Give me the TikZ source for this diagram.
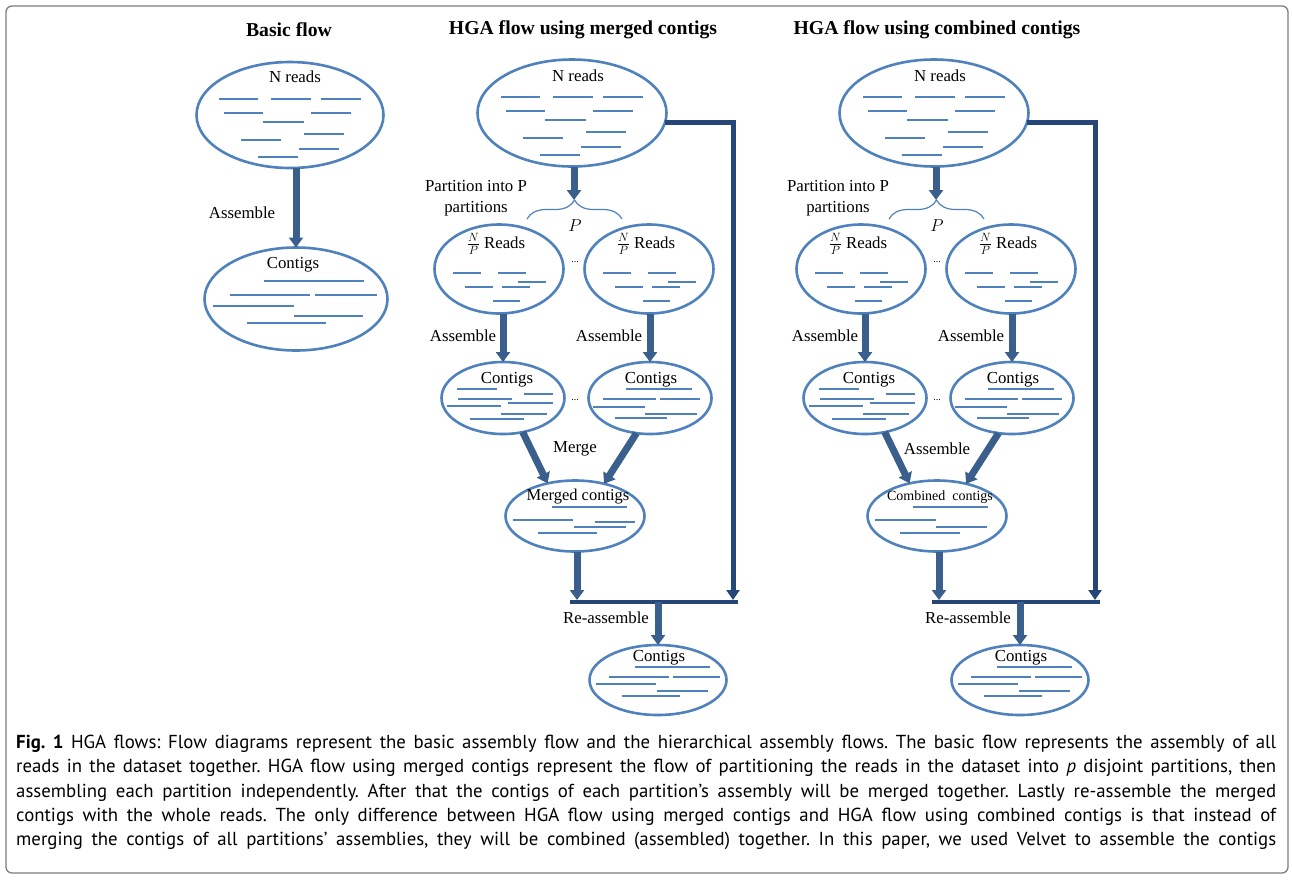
\documentclass[tikz,border=0pt]{standalone}
\usepackage{fontspec}
\setmainfont{Liberation Serif}
\setsansfont{PT Sans}
\usetikzlibrary{positioning,shapes.geometric,arrows.meta,decorations.pathreplacing}

\definecolor{blobblue}{RGB}{79,129,189}
\definecolor{arrowblue}{RGB}{58,95,140}
\definecolor{barblue}{RGB}{38,70,120}
\definecolor{framegray}{RGB}{125,125,125}

\tikzset{
  blob/.style={ellipse, draw=blobblue, line width=2.6pt, inner sep=0pt, outer sep=0pt},
  readline/.style={blobblue, line width=1.3pt},
  flowarrow/.style={arrowblue, line width=7pt, -{Triangle[width=14pt,length=10pt]}},
  feedline/.style={barblue, line width=5pt, -{Triangle[width=13pt,length=10pt]}},
  joinbar/.style={barblue, line width=4.5pt},
  lbl/.style={font=\fontsize{16.8}{20}\selectfont, inner sep=0pt},
  title/.style={font=\fontsize{19.7}{23}\selectfont\bfseries, inner sep=0pt}
}

% read lines: x1/x2/y relative to the centre of an ellipse
\def\nreadsl{-71/-32/-16, -19/21/-16, 31/71/-16, -66/-27/-2, 21/61/-2, -27/14/7, -49/-9/25, 14/54/19, 9/49/34, -32/8/42}
\def\bigcontigsl{-32/68/-18, -66/14/-4, 19/81/-4, -83/-2/7, -2/67/17, -49/30/24}
\def\partl{-46/-18/4, -1/27/4, -34/-6/18, 3/31/18, 19/47/13, -6/21/32}
\def\smallcontigsl{-46/-6/-9, 21/50/-4, -45/9/1, -56/-2/8, 5/50/5, -2/44/16, -33/21/21}
\def\smallcontigsr{-24/42/-9, -47/6/1, 10/50/1, -57/-5/9, -5/47/16, -35/17/20}
\def\mergedl{-23/52/-9, -62/-2/4, 20/60/6, -1/51/11, -37/22/17}
\def\combinedl{-24/51/-9, -62/-1/4, -1/50/11, -37/23/17}
\def\finall{-23/52/-13, -49/11/-3, 15/62/-3, -62/-2/4, -1/50/11, -36/22/16}

\newcommand{\drawreads}[2]{%
  \foreach \xa/\xb/\yy in #2 {\draw[readline] ([shift={(\xa,\yy)}]#1.center) -- ([shift={(\xb,\yy)}]#1.center);}}

% one hierarchical flow: suffix, x shift, middle label, output label, output reads
\newcommand{\hgaflow}[5]{%
  \begin{scope}[xshift=#2]
    \node[blob, minimum width=189pt, minimum height=107pt] (top#1) at (572,113) {};
    \node[lbl] (topl#1) at (578,76) {N reads};
    \drawreads{top#1}{\nreadsl}

    \node[lbl, align=center, font=\fontsize{16.8}{21}\selectfont] (part#1) at (476,198) {Partition into P\\partitions};
    \coordinate (brt#1) at (574,200);
    \draw[flowarrow] (brt#1 |- top#1.south) -- (brt#1);
    \draw[blobblue, line width=1.2pt, decorate, decoration={brace, amplitude=19pt}] (527,219) -- (622,219);
    \node[font=\fontsize{18}{20}\selectfont, inner sep=0pt] (pp#1) at (575,226) {$P$};

    \node[blob, minimum width=129pt, minimum height=89pt] (pl#1) at (499,269) {};
    \node[blob, minimum width=129pt, minimum height=89pt] (pr#1) at (649,269) {};
    \node[lbl] (pll#1) at (496,244) {$\frac{N}{P}$ Reads};
    \node[lbl] (prl#1) at (646,244) {$\frac{N}{P}$ Reads};
    \node[font=\fontsize{10}{12}\selectfont, inner sep=0pt] (pdots#1) at (575,262) {...};
    \drawreads{pl#1}{\partl}
    \drawreads{pr#1}{\partl}

    \node[blob, minimum width=123pt, minimum height=72pt] (cl#1) at (503,398) {};
    \node[blob, minimum width=123pt, minimum height=72pt] (cr#1) at (650,398) {};
    \node[lbl] (cll#1) at (507,380) {Contigs};
    \node[lbl] (crl#1) at (651,380) {Contigs};
    \node[font=\fontsize{10}{12}\selectfont, inner sep=0pt] (cdots#1) at (575,400) {...};
    \drawreads{cl#1}{\smallcontigsl}
    \drawreads{cr#1}{\smallcontigsr}

    \draw[flowarrow] (cl#1.north |- pl#1.south) -- (cl#1.north);
    \draw[flowarrow] (cr#1.north |- pr#1.south) -- (cr#1.north);
    \node[lbl] (asl#1) at (463,336) {Assemble};
    \node[lbl] (asr#1) at (609,336) {Assemble};

    \node[blob, minimum width=139pt, minimum height=71pt] (mg#1) at (575,516) {};
    \node[inner sep=0pt] (mgl#1) at (578,497) {#4};
    \drawreads{mg#1}{#5}
    \draw[flowarrow] (cl#1.-60) -- (mg#1.130);
    \draw[flowarrow] (cr#1.-111) -- (mg#1.48);
    \node[lbl] (mid#1) at (575,449) {#3};

    \coordinate (barl#1) at (570,602);
    \coordinate (barr#1) at (738,602);
    \coordinate (barm#1) at (658,602);
    \coordinate (mgend#1) at (577,600);
    \coordinate (feedend#1) at (733,600);
    \draw[joinbar] (barl#1) -- (barr#1);
    \draw[flowarrow] (mg#1.south -| mgend#1) -- (mgend#1);
    \draw[feedline] (top#1.-6) -| (feedend#1);

    \node[blob, minimum width=137pt, minimum height=70pt] (fc#1) at (658,680) {};
    \node[lbl] (fcl#1) at (659,658) {Contigs};
    \drawreads{fc#1}{\finall}
    \draw[flowarrow] (barm#1) -- (fc#1);
    \node[lbl] (reas#1) at (606,618) {Re-assemble};
  \end{scope}}

\begin{document}
\begin{tikzpicture}[x=1pt,y=-1pt]
  \useasboundingbox (0,0) rectangle (1292,879);
  \draw[framegray, line width=1.3pt, rounded corners=6pt] (6,6) rectangle (1288,873);

  \node[title] (basic) at (289,30) {Basic flow};
  \node[title] (merged) at (583,30) {HGA flow using merged contigs};
  \node[title] (combined) at (937,30) {HGA flow using combined contigs};

  % basic flow
  \node[blob, minimum width=187pt, minimum height=106pt] (bn) at (290,115) {};
  \node[lbl] (bnl) at (295,77) {N reads};
  \drawreads{bn}{\nreadsl}
  \node[blob, minimum width=183pt, minimum height=103pt] (bc) at (296,299) {};
  \node[lbl] (bcl) at (293,265) {Contigs};
  \drawreads{bc}{\bigcontigsl}
  \draw[flowarrow] (bc.north |- bn.south) -- (bc.north);
  \node[lbl] (bas) at (242,213) {Assemble};

  % hierarchical flows
  \hgaflow{m}{0}{Merge}{\fontsize{16.5}{19}\selectfont Merged contigs}{\mergedl}
  \hgaflow{c}{362}{Assemble}{\fontsize{14}{17}\selectfont Combined\ \ contigs}{\combinedl}

  % caption
  \node[anchor=north west, inner sep=0pt, text width=1260pt, align=justify,
        font=\sffamily\fontsize{18.8}{24.2}\selectfont] (cap) at (16,735)
    {\frenchspacing\parfillskip=0pt\relax \textbf{Fig.~1} HGA flows: Flow diagrams represent the basic assembly flow and the hierarchical assembly flows. The basic flow represents the assembly of all\linebreak
     reads in the dataset together. HGA flow using merged contigs represent the flow of partitioning the reads in the dataset into \textit{p} disjoint partitions, then\linebreak
     assembling each partition independently. After that the contigs of each partition’s assembly will be merged together. Lastly re-assemble the merged\linebreak
     contigs with the whole reads. The only difference between HGA flow using merged contigs and HGA flow using combined contigs is that instead of\linebreak
     merging the contigs of all partitions’ assemblies, they will be combined (assembled) together. In this paper, we used Velvet to assemble the contigs\par};
\end{tikzpicture}
\end{document}
